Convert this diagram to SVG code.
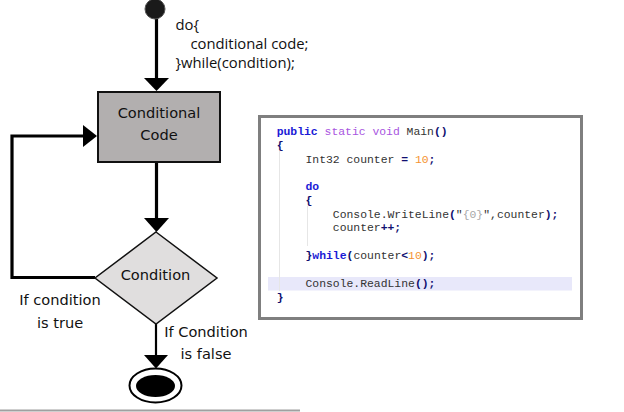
<svg xmlns="http://www.w3.org/2000/svg" width="624" height="412" viewBox="0 0 624 412">
<defs>
<style>
.lbl{font-family:"DejaVu Sans",Verdana,sans-serif;font-size:14.6px;fill:#111;}
.top{font-family:"Open Sans","Noto Sans",sans-serif;font-size:14.8px;fill:#111;}
.code{font-family:"Liberation Mono","Courier New",monospace;font-size:11.4px;fill:#333;white-space:pre;}
.kw{fill:#1a1ad6;font-weight:bold;}
.pk{fill:#a855e0;}
.op{fill:#101070;font-weight:bold;}
.num{fill:#f59331;}
.str{fill:#a8a8a8;}
.wire{stroke:#000;stroke-width:3.2;fill:none;}
.head{fill:#000;}
</style>
</defs>
<rect width="624" height="412" fill="#fff"/>

<g id="connectors">
  <line class="wire" x1="156.5" y1="18" x2="156.5" y2="80"/>
  <polygon class="head" points="144,78 169,78 156.5,91"/>
  <line class="wire" x1="156.5" y1="162" x2="156.5" y2="220"/>
  <polygon class="head" points="144,218 169,218 156.5,232"/>
  <polyline class="wire" points="95,277.5 12,277.5 12,136 86,136"/>
  <polygon class="head" points="83,125 83,147 97,136"/>
  <line stroke="#000" stroke-width="2.2" x1="156" y1="324" x2="156" y2="358"/>
  <polygon class="head" points="144,355 168,355 156,368.5"/>
</g>

<g id="start">
  <circle cx="155" cy="9" r="10" fill="#1a1a1a" stroke="#555" stroke-width="1"/>
</g>

<g id="loop-label">
  <text class="top" x="175.5" y="30">do{</text>
  <text class="top" x="190.5" y="49">conditional code;</text>
  <text class="top" x="175.5" y="68">}while(condition);</text>
</g>

<g id="conditional-code">
  <rect x="98" y="92" width="122" height="70" fill="#b2afaf" stroke="#111" stroke-width="2"/>
  <text class="lbl" x="159" y="117.5" text-anchor="middle">Conditional</text>
  <text class="lbl" x="159" y="139.5" text-anchor="middle">Code</text>
</g>

<g id="condition">
  <polygon points="156,232 217,278 156,324 95,278" fill="#e0dede" stroke="#111" stroke-width="1.5"/>
  <text class="lbl" x="155.5" y="280" text-anchor="middle">Condition</text>
</g>

<g id="true-label">
  <text class="lbl" x="60" y="305" text-anchor="middle">If condition</text>
  <text class="lbl" x="60" y="327.5" text-anchor="middle">is true</text>
</g>

<g id="false-label">
  <text class="lbl" x="206" y="337" text-anchor="middle">If Condition</text>
  <text class="lbl" x="206" y="359" text-anchor="middle">is false</text>
</g>

<g id="end">
  <ellipse cx="155.5" cy="385.5" rx="26" ry="17" fill="#fff" stroke="#000" stroke-width="2"/>
  <ellipse cx="155.5" cy="386" rx="19.5" ry="11" fill="#000"/>
</g>

<line x1="0" y1="410.5" x2="300" y2="410.5" stroke="#a0a0a0" stroke-width="2"/>

<g id="code-panel">
  <rect x="259.5" y="116.5" width="322" height="202" fill="#fff" stroke="#7f7f7f" stroke-width="3"/>
  <rect x="268" y="277" width="304" height="13.5" fill="#e8e8fa"/>
  <line x1="279.5" y1="151" x2="279.5" y2="291" stroke="#e6e6e6" stroke-width="1"/>
  <line x1="307.5" y1="206" x2="307.5" y2="246" stroke="#e6e6e6" stroke-width="1"/>
  <text class="code" x="276.7" y="134.5"><tspan class="kw">public</tspan> <tspan class="pk">static</tspan> <tspan class="pk">void</tspan> Main<tspan class="op">()</tspan></text>
  <text class="code" x="276.7" y="148.5"><tspan class="op">{</tspan></text>
  <text class="code" x="305.5" y="162.5">Int32 counter <tspan class="op">=</tspan> <tspan class="num">10</tspan><tspan class="op">;</tspan></text>
  <text class="code" x="305.5" y="190"><tspan class="kw">do</tspan></text>
  <text class="code" x="305.5" y="204"><tspan class="op">{</tspan></text>
  <text class="code" x="332.8" y="218">Console.WriteLine<tspan class="op">(</tspan>"<tspan class="str">{0}</tspan>",counter<tspan class="op">);</tspan></text>
  <text class="code" x="332.8" y="231">counter<tspan class="op">++;</tspan></text>
  <text class="code" x="305.5" y="259"><tspan class="op">}</tspan><tspan class="kw">while</tspan><tspan class="op">(</tspan>counter<tspan class="op">&lt;</tspan><tspan class="num">10</tspan><tspan class="op">);</tspan></text>
  <text class="code" x="305.5" y="287"><tspan>Console.ReadLine</tspan><tspan class="op">();</tspan></text>
  <text class="code" x="276.7" y="300.5"><tspan class="op">}</tspan></text>
</g>
</svg>
